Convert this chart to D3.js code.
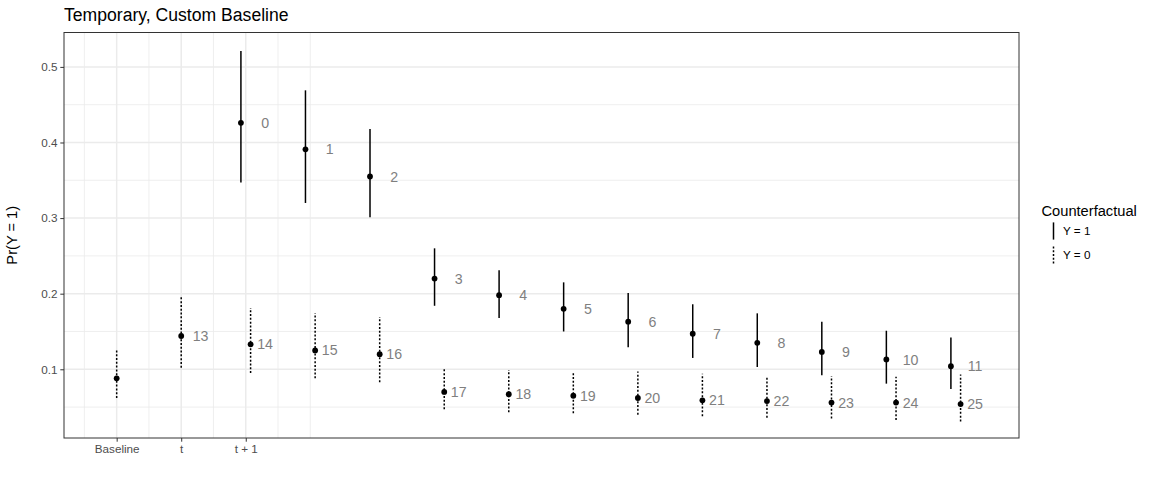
<!DOCTYPE html>
<html>
<head>
<meta charset="utf-8">
<script src="https://cdn.jsdelivr.net/npm/d3@7"></script>
<style>
  html, body { margin: 0; padding: 0; background: #fff; }
  svg { display: block; font-family: "Liberation Sans", Arial, sans-serif; }
</style>
</head>
<body>
<svg id="chart" width="1152" height="480"></svg>
<script>
// ---- Data ----
const title = "Temporary, Custom Baseline";
const yTitle = "Pr(Y = 1)";
const legendTitle = "Counterfactual";
const seriesNames = ["Y = 1", "Y = 0"];

const xTickValues = [1, 2, 3];
const xTickLabels = ["Baseline", "t", "t + 1"];
const yTickValues = [0.1, 0.2, 0.3, 0.4, 0.5];
const yTickLabels = ["0.1", "0.2", "0.3", "0.4", "0.5"];

// Counterfactual Y = 1 (solid)
const y1Position = [3, 4, 5, 6, 7, 8, 9, 10, 11, 12, 13, 14];
const y1Label    = ["0", "1", "2", "3", "4", "5", "6", "7", "8", "9", "10", "11"];
const y1Est      = [0.426, 0.391, 0.355, 0.220, 0.198, 0.180, 0.163, 0.147, 0.135, 0.123, 0.113, 0.104];
const y1Lower    = [0.347, 0.320, 0.301, 0.184, 0.168, 0.150, 0.129, 0.115, 0.103, 0.092, 0.081, 0.074];
const y1Upper    = [0.521, 0.469, 0.418, 0.260, 0.231, 0.215, 0.201, 0.186, 0.174, 0.163, 0.151, 0.142];

// Counterfactual Y = 0 (dotted)
const y0Position = [1, 2, 3, 4, 5, 6, 7, 8, 9, 10, 11, 12, 13, 14];
const y0Label    = [null, "13", "14", "15", "16", "17", "18", "19", "20", "21", "22", "23", "24", "25"];
const y0Est      = [0.088, 0.144, 0.133, 0.125, 0.120, 0.070, 0.067, 0.065, 0.062, 0.059, 0.058, 0.056, 0.056, 0.054];
const y0Lower    = [0.062, 0.102, 0.095, 0.088, 0.083, 0.047, 0.043, 0.042, 0.040, 0.038, 0.036, 0.035, 0.033, 0.031];
const y0Upper    = [0.126, 0.197, 0.181, 0.174, 0.169, 0.102, 0.099, 0.096, 0.097, 0.094, 0.090, 0.091, 0.090, 0.093];

// ---- Layout ----
const panel = { left: 64, right: 1019, top: 32.5, bottom: 438 };
const dodge = 0.075;
const labelNudge = 0.3;

const svg = d3.select("#chart");
const x = d3.scaleLinear().domain([0.184, 14.98]).range([panel.left, panel.right]);
const y = d3.scaleLinear().domain([0.0091, 0.5455]).range([panel.bottom, panel.top]);

// build records
const both = new Set(y1Position.filter(p => y0Position.includes(p)));
const recs = [];
y1Position.forEach((p, i) => recs.push({ s: 0, pos: p, xv: p - (both.has(p) ? dodge : 0), est: y1Est[i], lo: y1Lower[i], hi: y1Upper[i], label: y1Label[i] }));
y0Position.forEach((p, i) => recs.push({ s: 1, pos: p, xv: p + (both.has(p) ? dodge : 0), est: y0Est[i], lo: y0Lower[i], hi: y0Upper[i], label: y0Label[i] }));

const dashes = [null, "2,1.8"];

// background
svg.append("rect").attr("x", panel.left).attr("y", panel.top)
  .attr("width", panel.right - panel.left).attr("height", panel.bottom - panel.top)
  .attr("fill", "#fff");

// grid
const minorX = [0.5, 1.5, 2.5, 3.5, 4];
const minorY = [0.05, 0.15, 0.25, 0.35, 0.45];
const g = svg.append("g");
g.selectAll(".mx").data(minorX).join("line")
  .attr("x1", d => x(d)).attr("x2", d => x(d)).attr("y1", panel.top).attr("y2", panel.bottom)
  .attr("stroke", "#ebebeb").attr("stroke-width", 0.8);
g.selectAll(".my").data(minorY).join("line")
  .attr("y1", d => y(d)).attr("y2", d => y(d)).attr("x1", panel.left).attr("x2", panel.right)
  .attr("stroke", "#ebebeb").attr("stroke-width", 0.8);
g.selectAll(".Mx").data(xTickValues).join("line")
  .attr("x1", d => x(d)).attr("x2", d => x(d)).attr("y1", panel.top).attr("y2", panel.bottom)
  .attr("stroke", "#ebebeb").attr("stroke-width", 1.5);
g.selectAll(".My").data(yTickValues).join("line")
  .attr("y1", d => y(d)).attr("y2", d => y(d)).attr("x1", panel.left).attr("x2", panel.right)
  .attr("stroke", "#ebebeb").attr("stroke-width", 1.5);

// data: line ranges
const marks = svg.append("g");
marks.selectAll(".rng").data(recs).join("line")
  .attr("x1", d => x(d.xv)).attr("x2", d => x(d.xv))
  .attr("y1", d => y(d.lo)).attr("y2", d => y(d.hi))
  .attr("stroke", "#000").attr("stroke-width", 1.5)
  .attr("stroke-dasharray", d => dashes[d.s]);
marks.selectAll(".pt").data(recs).join("circle")
  .attr("cx", d => x(d.xv)).attr("cy", d => y(d.est)).attr("r", 2.9)
  .attr("fill", "#000");
marks.selectAll(".lab").data(recs.filter(d => d.label !== null)).join("text")
  .attr("x", d => x(d.pos + labelNudge)).attr("y", d => y(d.est))
  .attr("dy", "0.36em").attr("text-anchor", "middle")
  .attr("font-size", 14.2).attr("fill", "#7f7f7f")
  .text(d => d.label);

// panel border
svg.append("rect").attr("x", panel.left).attr("y", panel.top)
  .attr("width", panel.right - panel.left).attr("height", panel.bottom - panel.top)
  .attr("fill", "none").attr("stroke", "#333333").attr("stroke-width", 1);

// axes
const yAxis = d3.axisLeft(y).tickValues(yTickValues).tickFormat((d, i) => yTickLabels[i])
  .tickSizeInner(3.7).tickSizeOuter(0).tickPadding(2.9);
const ya = svg.append("g").attr("transform", `translate(${panel.left},0)`).call(yAxis);
ya.select(".domain").remove();
ya.selectAll(".tick line").attr("stroke", "#333333").attr("stroke-width", 1);
ya.selectAll(".tick text").attr("fill", "#4d4d4d").attr("font-size", 11.7)
  .attr("font-family", "Liberation Sans, Arial, sans-serif");

const xAxis = d3.axisBottom(x).tickValues(xTickValues).tickFormat((d, i) => xTickLabels[i])
  .tickSizeInner(3.7).tickSizeOuter(0).tickPadding(2.9);
const xa = svg.append("g").attr("transform", `translate(0,${panel.bottom})`).call(xAxis);
xa.select(".domain").remove();
xa.selectAll(".tick line").attr("stroke", "#333333").attr("stroke-width", 1);
xa.selectAll(".tick text").attr("fill", "#4d4d4d").attr("font-size", 11.7)
  .attr("font-family", "Liberation Sans, Arial, sans-serif");

// titles
svg.append("text").attr("x", panel.left).attr("y", 21)
  .attr("font-size", 17.6).attr("fill", "#000").text(title);
svg.append("text")
  .attr("transform", `translate(17,${(panel.top + panel.bottom) / 2}) rotate(-90)`)
  .attr("text-anchor", "middle").attr("font-size", 14.67).attr("fill", "#000").text(yTitle);

// legend
const lg = svg.append("g");
lg.append("text").attr("x", 1041.5).attr("y", 216).attr("font-size", 14.67).attr("fill", "#000").text(legendTitle);
const keyCenters = [231, 255];
seriesNames.forEach((name, i) => {
  lg.append("line").attr("x1", 1053.5).attr("x2", 1053.5)
    .attr("y1", keyCenters[i] - 8.6).attr("y2", keyCenters[i] + 8.6)
    .attr("stroke", "#000").attr("stroke-width", 1.5)
    .attr("stroke-dasharray", dashes[i]);
  lg.append("text").attr("x", 1063).attr("y", keyCenters[i]).attr("dy", "0.36em")
    .attr("font-size", 11.7).attr("fill", "#000").text(name);
});
</script>
</body>
</html>
